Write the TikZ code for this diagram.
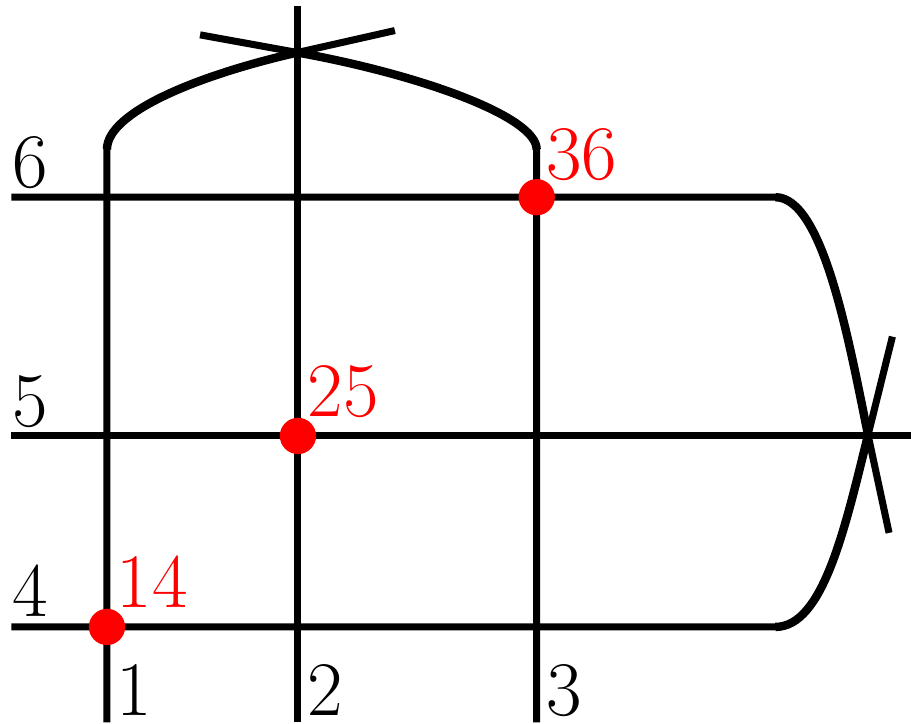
\documentclass[tikz,border=0pt]{standalone}
\begin{document}
\begin{tikzpicture}[x=0.5cm,y=0.5cm,
  wire/.style={line width=2.1pt,black},
  curvewire/.style={line width=2.5pt,black},
  reddot/.style={circle,fill=red,inner sep=0pt,minimum size=0.76*0.5cm},
  lab/.style={anchor=base west,inner sep=0pt,font=\fontsize{23}{26}\selectfont},
  rlab/.style={lab,text=red}]
\useasboundingbox (-2.24,-2.03) rectangle (16.84,13.13);
% coordinates
\coordinate (p1b) at (0,-2);   \coordinate (p1t) at (0,10);
\coordinate (p2b) at (4,-2);   \coordinate (p2t) at (4,13);
\coordinate (p3b) at (9,-2);   \coordinate (p3t) at (9,10);
\coordinate (q4l) at (-2,0);   \coordinate (q4r) at (14,0);
\coordinate (q5l) at (-2,4);   \coordinate (q5r) at (17,4);
\coordinate (q6l) at (-2,9);   \coordinate (q6r) at (14,9);
\coordinate (xt) at (3.99,12.03);
\coordinate (xr) at (15.94,4.02);
\coordinate (e1) at (6.03,12.49);
\coordinate (e3) at (1.95,12.40);
\coordinate (e6) at (16.38,1.97);
\coordinate (e4) at (16.45,6.08);
% straight lines
\draw[wire] (p2b) -- (p2t);
\draw[wire] (q5l) -- (q5r);
% line 1
\draw[wire] (p1b) -- (p1t) .. controls (0,10.8) and (2,11.58) .. (xt) -- (e1);
\draw[curvewire] (p1t) .. controls (0,10.8) and (2,11.58) .. (xt);
% line 3
\draw[wire] (p3b) -- (p3t) .. controls (9,10.7) and (6.5,11.58) .. (xt) -- (e3);
\draw[curvewire] (p3t) .. controls (9,10.7) and (6.5,11.58) .. (xt);
% line 6
\draw[wire] (q6l) -- (q6r) .. controls (15,9) and (15.54,5.98) .. (xr) -- (e6);
\draw[curvewire] (q6r) .. controls (15,9) and (15.54,5.98) .. (xr);
% line 4
\draw[wire] (q4l) -- (q4r) .. controls (15,0) and (15.46,2.08) .. (xr) -- (e4);
\draw[curvewire] (q4r) .. controls (15,0) and (15.46,2.08) .. (xr);
% dots
\node[reddot] (d14) at (0,0) {};
\node[reddot] (d25) at (4,4) {};
\node[reddot] (d36) at (9,9) {};
% labels
\node[lab] (l1) at (0.19,-1.86) {1};
\node[lab] (l2) at (4.19,-1.86) {2};
\node[lab] (l3) at (9.19,-1.86) {3};
\node[lab] (l4) at (-2,0.22) {4};
\node[lab] (l5) at (-2,4.2) {5};
\node[lab] (l6) at (-2,9.2) {6};
\node[rlab] (t14) at (0.19,0.4) {14};
\node[rlab] (t25) at (4.19,4.4) {25};
\node[rlab] (t36) at (9.19,9.38) {36};
\end{tikzpicture}
\end{document}
